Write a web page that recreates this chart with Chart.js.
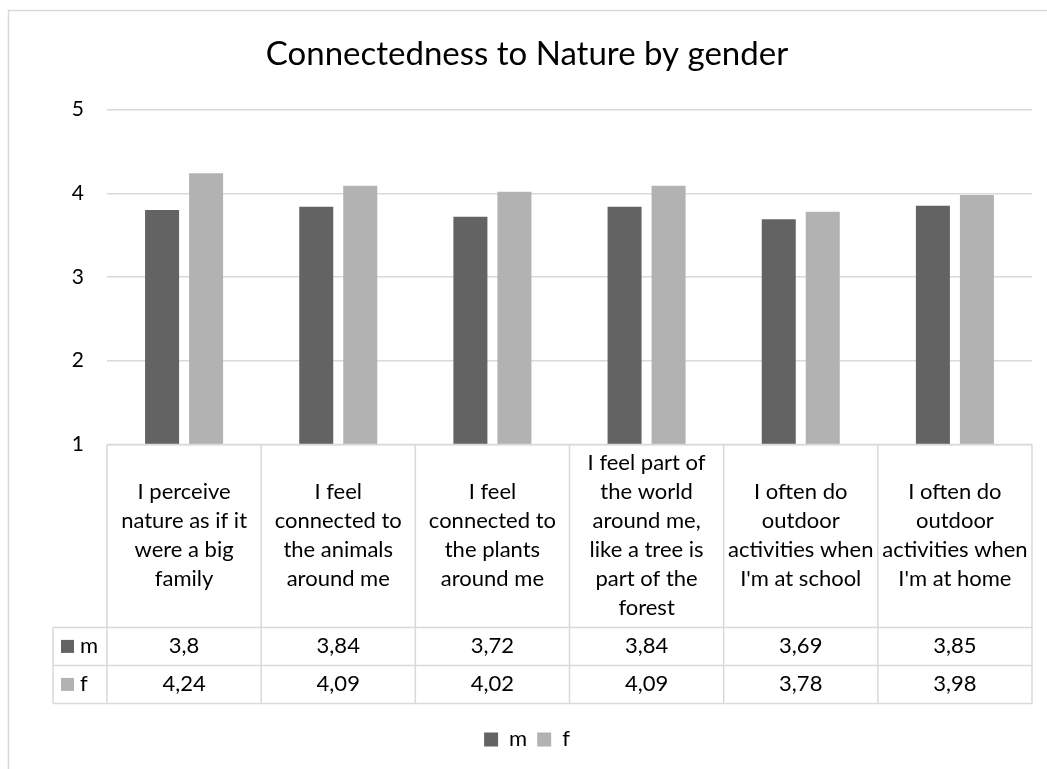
<!doctype html>
<html lang="en">
<head>
  <meta charset="utf-8">
  <title>Connectedness to Nature by gender</title>
  <script src="https://cdn.jsdelivr.net/npm/chart.js@4.4.1/dist/chart.umd.min.js"></script>
  <style>
    html, body { margin: 0; padding: 0; background: #fff; }
    .grafico { width: 1047px; height: 769px; }
  </style>
</head>

<body>
<div class="grafico">
  <canvas id="myChart"></canvas>
</div>

<script>
// categories (one entry per line, as in the data table cells)
var categorias = [
  ["I perceive", "nature as if it", "were a big", "family"],
  ["I feel", "connected to", "the animals", "around me"],
  ["I feel", "connected to", "the plants", "around me"],
  ["I feel part of", "the world", "around me,", "like a tree is", "part of the", "forest"],
  ["I often do", "outdoor", "activities when", "I'm at school"],
  ["I often do", "outdoor", "activities when", "I'm at home"]
];
var serieM = [3.8, 3.84, 3.72, 3.84, 3.69, 3.85];
var serieF = [4.24, 4.09, 4.02, 4.09, 3.78, 3.98];
var nombres = ["m", "f"];
var colores = ["#636363", "#b2b2b2"];
var titulo = "Connectedness to Nature by gender";
var yMin = 1, yMax = 5, yPaso = 1;

var fuente = "Lato";
var gris = "#d9d9d9";

// the excel style data table under the plot + outer frame
const tabla = {
  id: "tabla",
  beforeDraw(chart) {
    const c = chart.ctx;
    c.save();
    c.strokeStyle = gris;
    c.lineWidth = 1.5;
    c.beginPath();
    c.moveTo(8.5, chart.height);
    c.lineTo(8.5, 10.5);
    c.lineTo(chart.width, 10.5);
    c.stroke();
    c.restore();
  },
  afterDraw(chart) {
    const c = chart.ctx;
    const x = chart.scales.x;
    const n = chart.data.labels.length;
    const colW = (x.right - x.left) / n;
    const top = chart.chartArea.bottom;
    const catH = 183, rowH = 38, lineH = 29;
    const rowsTop = top + catH;
    const bottom = rowsTop + 2 * rowH;
    const legL = 53;

    c.save();
    c.strokeStyle = gris;
    c.lineWidth = 1.5;
    c.beginPath();
    // horizontal lines
    c.moveTo(x.left, top); c.lineTo(x.right, top);
    c.moveTo(legL, rowsTop); c.lineTo(x.right, rowsTop);
    c.moveTo(legL, rowsTop + rowH); c.lineTo(x.right, rowsTop + rowH);
    c.moveTo(legL, bottom); c.lineTo(x.right, bottom);
    // vertical lines
    c.moveTo(legL, rowsTop); c.lineTo(legL, bottom);
    for (let i = 0; i <= n; i++) {
      const px = x.left + i * colW;
      c.moveTo(px, top); c.lineTo(px, bottom);
    }
    c.stroke();

    c.fillStyle = "#000";
    c.font = "22px " + fuente;
    c.textAlign = "center";
    c.textBaseline = "middle";
    chart.data.labels.forEach(function(lineas, i) {
      const cx = x.getPixelForValue(i);
      const y0 = top + catH / 2 - (lineas.length - 1) * lineH / 2;
      lineas.forEach(function(t, k) { c.fillText(t, cx, y0 + k * lineH); });
    });

    chart.data.datasets.forEach(function(ds, r) {
      const cy = rowsTop + r * rowH + rowH / 2;
      c.textAlign = "center";
      c.fillStyle = "#000";
      ds.data.forEach(function(v, i) {
        c.fillText(String(v).replace(".", ","), x.getPixelForValue(i), cy);
      });
      c.fillStyle = ds.backgroundColor;
      c.fillRect(61, cy - 6.5, 13, 13);
      c.fillStyle = "#000";
      c.textAlign = "left";
      c.fillText(ds.label, 80, cy);
    });
    c.restore();
  }
};

Chart.defaults.color = "#000";
Chart.defaults.font.family = fuente;

var ctx = document.getElementById("myChart").getContext("2d");
var myChart = new Chart(ctx, {
  type: "bar",
  data: {
    labels: categorias,
    datasets: [
      { label: nombres[0], data: serieM, backgroundColor: colores[0] },
      { label: nombres[1], data: serieF, backgroundColor: colores[1] }
    ]
  },
  plugins: [tabla],
  options: {
    responsive: true,
    maintainAspectRatio: false,
    animation: false,
    categoryPercentage: 0.571,
    barPercentage: 0.773,
    layout: { padding: { left: 22, right: 15, top: 0, bottom: 8.6 } },
    scales: {
      x: {
        grid: { display: false },
        border: { display: false },
        ticks: { display: false },
        afterFit: function(s) { s.height = 274; }
      },
      y: {
        min: yMin,
        max: yMax,
        ticks: { stepSize: yPaso, padding: 23, font: { size: 21 } },
        grid: { color: gris, lineWidth: 1.5, drawTicks: false },
        border: { display: false },
        afterFit: function(s) { s.width = 85; }
      }
    },
    plugins: {
      title: {
        display: true,
        text: titulo,
        font: { size: 33, weight: "normal" },
        padding: { top: 35, bottom: 35 }
      },
      legend: {
        position: "bottom",
        labels: { boxWidth: 14, boxHeight: 14, padding: 10, font: { size: 22 } }
      },
      tooltip: { enabled: false }
    }
  }
});
</script>
</body>
</html>
